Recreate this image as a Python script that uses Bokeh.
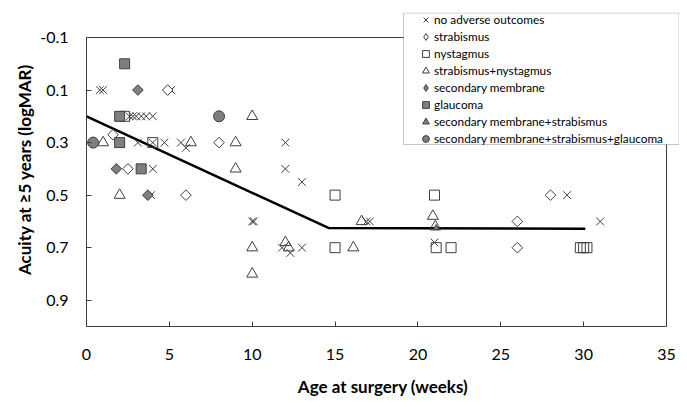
import math
from bokeh.plotting import figure
from bokeh.models import Legend, LegendItem, BoxAnnotation, FixedTicker, Range1d
from bokeh.embed import file_html
from bokeh.resources import INLINE

# ---- data (age in weeks, acuity logMAR) ----
none_x = [0.8, 1.0, 5.1, 2.6, 2.8, 3.0, 3.3, 3.6, 4.0, 3.1, 4.0, 4.7, 5.7, 6.0, 12.0,
          4.0, 12.0, 13.0, 3.9, 29.0, 10.0, 10.1, 16.9, 17.1, 31.0, 11.8, 12.3, 13.0, 21.0]
none_y = [0.1, 0.1, 0.1, 0.2, 0.2, 0.2, 0.2, 0.2, 0.2, 0.3, 0.3, 0.3, 0.3, 0.32, 0.3,
          0.4, 0.4, 0.45, 0.5, 0.5, 0.6, 0.6, 0.6, 0.6, 0.6, 0.7, 0.72, 0.7, 0.68]

strab_x = [1.6, 2.5, 4.9, 6.0, 8.0, 26.0, 26.0, 28.0]
strab_y = [0.27, 0.4, 0.1, 0.5, 0.3, 0.6, 0.7, 0.5]

nyst_x = [2.3, 4.0, 15.0, 15.0, 21.0, 21.1, 22.0, 29.8, 30.0, 30.2]
nyst_y = [0.2, 0.3, 0.5, 0.7, 0.5, 0.7, 0.7, 0.7, 0.7, 0.7]

sn_x = [1.0, 2.0, 6.3, 9.0, 9.0, 10.0, 10.0, 10.0, 12.0, 12.2, 16.1, 16.6, 20.9, 21.05]
sn_y = [0.3, 0.5, 0.3, 0.3, 0.4, 0.2, 0.7, 0.8, 0.68, 0.7, 0.7, 0.6, 0.58, 0.62]

memb_x = [3.1, 1.8, 3.7]
memb_y = [0.1, 0.4, 0.5]

glauc_x = [2.3, 2.0, 2.0, 3.3]
glauc_y = [0.0, 0.2, 0.3, 0.4]

ms_x = [21.1]
ms_y = [0.625]

msg_x = [0.4, 8.0]
msg_y = [0.3, 0.2]

fit_x = [0.0, 14.6, 30.1]
fit_y = [0.2, 0.625, 0.628]

x_ticks = [0, 5, 10, 15, 20, 25, 30, 35]
y_ticks = [-0.1, 0.1, 0.3, 0.5, 0.7, 0.9]
y_tick_labels = ["-0.1", "0.1", "0.3", "0.5", "0.7", "0.9"]
x_lim = (0, 35)
y_lim = (-0.1, 1.0)

labels = ["no adverse outcomes", "strabismus", "nystagmus", "strabismus+nystagmus",
          "secondary membrane", "glaucoma", "secondary membrane+strabismus",
          "secondary membrane+strabismus+glaucoma"]

FONT = "Lato"
EDGE = "#3f3f3f"
GRAY = "#7f7f7f"

W, H = 679, 399
LEFT, TOP, RIGHT, BOTTOM = 86, 12, 0, 73
# axes box (pixels) inside the canvas: x 86..666, y 37..326
AX_RIGHT_PX, AX_TOP_PX = 666, 37
fw = W - LEFT - RIGHT
fh = H - TOP - BOTTOM
px_per_x = (AX_RIGHT_PX - LEFT) / (x_lim[1] - x_lim[0])
px_per_y = ((H - BOTTOM) - AX_TOP_PX) / (y_lim[1] - y_lim[0])
x_end = x_lim[0] + fw / px_per_x
y_top = y_lim[1] - fh / px_per_y

p = figure(width=W, height=H, output_backend="svg", toolbar_location=None,
           x_range=Range1d(x_lim[0], x_end), y_range=Range1d(y_lim[1], y_top),
           min_border_left=LEFT, min_border_right=RIGHT,
           min_border_top=TOP, min_border_bottom=BOTTOM)
p.xgrid.visible = False
p.ygrid.visible = False
p.outline_line_color = None
p.background_fill_color = "white"
p.border_fill_color = "white"

for ax in (p.xaxis[0], p.yaxis[0]):
    ax.major_tick_in = 5
    ax.major_tick_out = 0
    ax.minor_tick_line_color = None
    ax.axis_line_color = EDGE
    ax.major_tick_line_color = EDGE
    ax.major_label_text_font = FONT
    ax.major_label_text_font_size = "16px"
    ax.major_label_text_color = "black"
    ax.axis_label_text_font = FONT
    ax.axis_label_text_font_size = "17px"
    ax.axis_label_text_font_style = "bold"
    ax.axis_label_text_color = "black"

p.xaxis.bounds = x_lim
p.yaxis.bounds = y_lim
p.xaxis.ticker = FixedTicker(ticks=x_ticks)
p.yaxis.ticker = FixedTicker(ticks=y_ticks)
p.yaxis.major_label_overrides = {t: s for t, s in zip(y_ticks, y_tick_labels)}
p.xaxis.axis_label = "Age at surgery (weeks)"
p.yaxis.axis_label = "Acuity at \u22655 years (logMAR)"
p.xaxis.major_label_standoff = 22
p.xaxis.axis_label_standoff = 13
p.yaxis.major_label_standoff = 18
p.yaxis.axis_label_standoff = 2

# top and right edges of the axes box
p.segment(x0=[x_lim[0], x_lim[1]], y0=[y_lim[0], y_lim[0]],
          x1=[x_lim[1], x_lim[1]], y1=[y_lim[0], y_lim[1]],
          line_color=EDGE, line_width=1)

fit = p.line(fit_x, fit_y, line_color="black", line_width=2.5)

# diamond-shaped proxies (for the legend); hidden under the rotated squares
l_strab = p.scatter(strab_x, strab_y, marker="diamond", size=8, line_color=EDGE,
                    fill_color="white", line_width=1)
l_memb = p.scatter(memb_x, memb_y, marker="diamond", size=8, line_color=EDGE,
                   fill_color=GRAY, line_width=1)

r_none = p.scatter(none_x, none_y, marker="x", size=11, line_color=EDGE, line_width=1)
r_strab = p.scatter(strab_x, strab_y, marker="square", angle=math.pi / 4, size=7.5,
                    line_color=EDGE, fill_color="white", line_width=1)
r_nyst = p.scatter(nyst_x, nyst_y, marker="square", size=10, line_color=EDGE,
                   fill_color="white", fill_alpha=0, line_width=1)
r_sn = p.scatter(sn_x, sn_y, marker="triangle", size=11, line_color=EDGE,
                 fill_color="white", fill_alpha=0, line_width=1)
r_memb = p.scatter(memb_x, memb_y, marker="square", angle=math.pi / 4, size=7.5,
                   line_color=EDGE, fill_color=GRAY, line_width=1)
r_glauc = p.scatter(glauc_x, glauc_y, marker="square", size=10, line_color=EDGE,
                    fill_color=GRAY, line_width=1)
r_ms = p.scatter(ms_x, ms_y, marker="triangle", size=6, line_color=EDGE,
                 fill_color=GRAY, line_width=1)
r_msg = p.scatter(msg_x, msg_y, marker="circle", size=11, line_color=EDGE,
                  fill_color=GRAY, line_width=1)

box = BoxAnnotation(left=403, right=678.5, top=12.5, bottom=144,
                    left_units="canvas", right_units="canvas",
                    top_units="canvas", bottom_units="canvas",
                    fill_color="white", fill_alpha=1.0,
                    line_color=EDGE, line_width=1)
p.add_layout(box)

rends = [r_none, l_strab, r_nyst, r_sn, l_memb, r_glauc, r_ms, r_msg]
legend = Legend(items=[LegendItem(label=l, renderers=[r]) for l, r in zip(labels, rends)],
                location=(331, 179), padding=0, margin=0, spacing=0,
                glyph_width=17, glyph_height=17, label_height=17, label_standoff=0,
                border_line_alpha=0, background_fill_alpha=0,
                label_text_font=FONT, label_text_font_size="11.8px", label_text_color="black")
p.add_layout(legend)

open("out.html", "w").write(file_html(p, INLINE))
